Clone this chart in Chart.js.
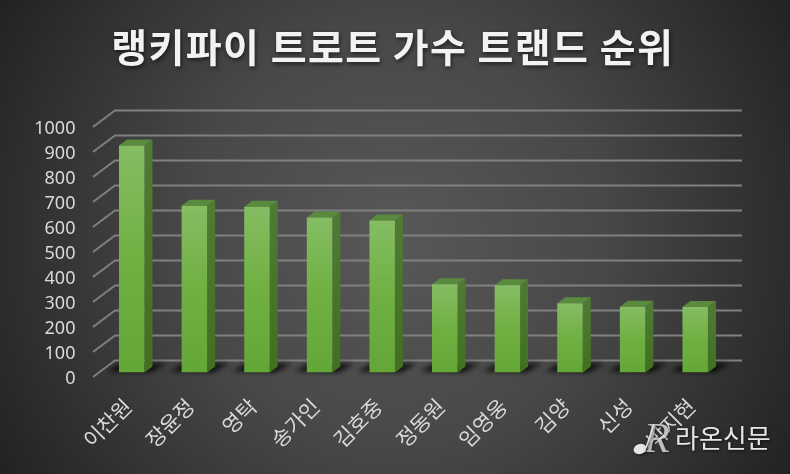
<!DOCTYPE html>
<html lang="ko"><head><meta charset="utf-8">
<style>html,body{margin:0;padding:0;background:#333}canvas{display:block}</style>
<script src="https://cdn.jsdelivr.net/npm/chart.js@4"></script></head>
<body><div style="width:790px;height:474px"><canvas id="c" width="790" height="474"></canvas></div>
<script>
const chartTitle = '랭키파이 트로트 가수 트랜드 순위';
const singers = ['이찬원','장윤정','영탁','송가인','김호중','정동원','임영웅','김양','신성','박지현'];
const scores = [908,667,663,620,608,353,349,277,263,262];
const watermark = '라온신문';
const KR = '"Noto Sans CJK KR","Noto Sans",sans-serif';

const backdrop = {
  id:'backdrop',
  beforeDraw(ch){
    const c=ch.ctx, W=ch.width, H=ch.height;
    c.save();
    const g=c.createRadialGradient(W/2,H/2,0,W/2,H/2,Math.hypot(W,H)/2);
    g.addColorStop(0,'#585858'); g.addColorStop(0.45,'#484848'); g.addColorStop(1,'#222222');
    c.fillStyle=g; c.fillRect(0,0,W,H); c.restore();
    if(ch.titleBlock && !ch.titleBlock._wrapped){
      const tb=ch.titleBlock, d=tb.draw.bind(tb);
      tb._wrapped=true;
      tb.draw=function(){ const x=tb.ctx; x.save(); x.translate(29.5,0); x.letterSpacing='1.4px'; x.shadowColor='rgba(0,0,0,.6)'; x.shadowBlur=4; x.shadowOffsetX=1; x.shadowOffsetY=2; d(); x.restore(); };
    }
  }
};
const walls = {
  id:'walls',
  beforeDatasetsDraw(ch){
    const c=ch.ctx, y=ch.scales.y, a=ch.chartArea, meta=ch.getDatasetMeta(0);
    const dx=22, dy=16.5, fx=a.left-7.5, fs=4.5, end=742;
    c.save(); c.strokeStyle='#808080'; c.lineWidth=2; c.lineJoin='round';
    y.ticks.forEach(t=>{
      const p=y.getPixelForValue(t.value)+fs;
      c.beginPath(); c.moveTo(fx,p); c.lineTo(fx+dx,p-dy); c.lineTo(end,p-dy); c.stroke();
    });
    // floor shadows
    c.filter='blur(2.5px)'; c.fillStyle='rgba(0,0,0,.75)';
    meta.data.forEach(b=>{
      const L=b.x-b.width/2, R=b.x+b.width/2, B=y.getPixelForValue(0);
      c.beginPath(); c.moveTo(L-12,B-1); c.lineTo(R+6,B); c.lineTo(R+22,B-9); c.lineTo(L+2,B-9); c.closePath(); c.fill();
    });
    c.filter='none';
    // side and top faces
    const ox=8, oy=6;
    meta.data.forEach(b=>{
      const L=b.x-b.width/2, R=b.x+b.width/2, T=b.y, B=b.base;
      const g=c.createLinearGradient(0,T,0,B);
      g.addColorStop(0,'#4f7a34'); g.addColorStop(1,'#41701f');
      c.fillStyle=g; c.beginPath(); c.moveTo(R,T); c.lineTo(R+ox,T-oy); c.lineTo(R+ox,B-oy); c.lineTo(R,B); c.closePath(); c.fill();
      c.fillStyle='#5a8a3e'; c.beginPath(); c.moveTo(L,T); c.lineTo(L+ox,T-oy); c.lineTo(R+ox,T-oy); c.lineTo(R,T); c.closePath(); c.fill();
    });
    c.restore();
  }
};
const stamp = {
  id:'stamp',
  afterDraw(ch){
    const c=ch.ctx; c.save();
    c.shadowColor='rgba(0,0,0,.6)'; c.shadowBlur=3; c.shadowOffsetX=1; c.shadowOffsetY=1;
    c.fillStyle='#e6e6e6'; c.textBaseline='alphabetic'; c.textAlign='left';
    c.font='26px '+KR; c.fillText(watermark,675,448);
    c.globalAlpha=0.8;
    c.font='italic 42px "Liberation Serif",serif'; c.fillText('R',644,452);
    c.globalAlpha=1;
    c.beginPath(); c.ellipse(640,449,6.5,5,-0.3,0,Math.PI*2); c.fill();
    c.strokeStyle='#e6e6e6'; c.lineWidth=1.5; c.beginPath(); c.moveTo(646,448); c.lineTo(654,424); c.stroke();
    c.restore();
  }
};

new Chart(document.getElementById('c'),{
  type:'bar',
  data:{labels:singers,datasets:[{data:scores,
    backgroundColor(ctx){
      const ch=ctx.chart, a=ch.chartArea; if(!a||ctx.raw==null) return '#6fb043';
      const top=ch.scales.y.getPixelForValue(ctx.raw), bot=a.bottom;
      const g=ch.ctx.createLinearGradient(0,top,0,bot);
      g.addColorStop(0,'#85bd63'); g.addColorStop(0.5,'#70b042'); g.addColorStop(1,'#63a737');
      return g;
    },
    barPercentage:0.407,categoryPercentage:1,borderWidth:0}]},
  plugins:[backdrop,walls,stamp],
  options:{
    responsive:false,animation:false,
    layout:{padding:{top:0,left:0,right:790-726.5,bottom:0}},
    plugins:{
      legend:{display:false},tooltip:{enabled:false},
      title:{display:true,text:chartTitle,color:'#f2f2f2',align:'center',
        font:{family:KR,size:39,weight:'bold',lineHeight:1.2},
        padding:{top:23.5,bottom:52.2}}
    },
    scales:{
      x:{grid:{display:false},border:{display:false},
        afterFit(s){s.height=474-372.5;},
        ticks:{color:'#d9d9d9',font:{family:KR,size:21},minRotation:45,maxRotation:45,padding:13,labelOffset:-4,autoSkip:false}},
      y:{min:0,max:1000,grid:{display:false},border:{display:false},
        afterFit(s){s.width=100.45;},
        ticks:{stepSize:100,color:'#d9d9d9',font:{family:'"Noto Sans",sans-serif',size:18},padding:17,labelOffset:6.5,callback:v=>String(v)}}
    }
  }
});
</script></body></html>
